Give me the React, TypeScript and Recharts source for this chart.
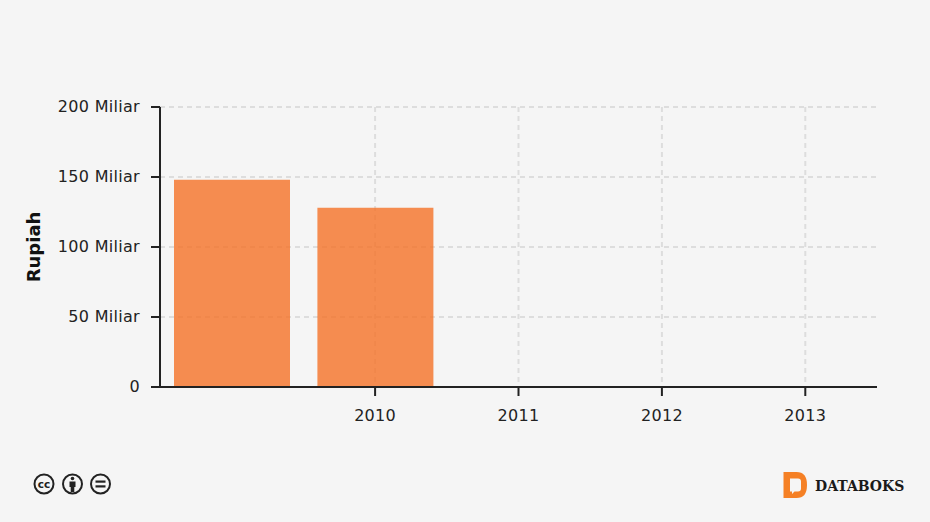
import { BarChart, Bar, XAxis, YAxis, CartesianGrid } from "recharts";

const years = ["", "2010", "2011", "2012", "2013"];
const values = [148, 128, 0, 0, 0];
const yTicks = [0, 50, 100, 150, 200];
const yLabels = ["0", "50 Miliar", "100 Miliar", "150 Miliar", "200 Miliar"];

const data = years.map((year, i) => ({ year: year || "2009", label: year, value: values[i] }));

const fontFamily = "'DejaVu Sans', sans-serif";
const axisColor = "#222";
const textColor = "#222";

function YearTick({ x, y, index }: any) {
  const label = years[index];
  if (!label) return null;
  return (
    <g>
      <line x1={x} x2={x} y1={y - 8} y2={y + 1} stroke={axisColor} strokeWidth={2} />
      <text x={x} y={y + 26} textAnchor="middle" fontSize={16} letterSpacing={0.3} fontFamily={fontFamily} fill={textColor}>
        {label}
      </text>
    </g>
  );
}

function CcBadges() {
  const ring = { fill: "#f5f5f5", stroke: "#222", strokeWidth: 2 };
  return (
    <svg width={90} height={30} style={{ position: "absolute", left: 30, top: 469 }}>
      <circle cx={14} cy={15} r={9.5} {...ring} />
      <text x={14} y={19} textAnchor="middle" fontSize={10.5} fontWeight={700} fontFamily={fontFamily} fill="#222">
        cc
      </text>
      <circle cx={42.5} cy={15} r={9.5} {...ring} />
      <circle cx={42.5} cy={9.5} r={1.8} fill="#222" />
      <path d="M39.500 12.500h6v5.500h-1.200v5h-3.600v-5H39.500z" fill="#222" />
      <circle cx={70.5} cy={15} r={9.5} {...ring} />
      <rect x={65.5} y={11.5} width={10} height={2.2} fill="#222" />
      <rect x={65.5} y={16.3} width={10} height={2.2} fill="#222" />
    </svg>
  );
}

function DataboksLogo() {
  return (
    <svg width={130} height={32} style={{ position: "absolute", left: 780, top: 470 }}>
      <path d="M3.500 2h13c7 0 10.500 4 10.500 13s-3.500 13-10.500 13h-13z" fill="#f58025" />
      <path d="M10 8.500h8c2 0 3 1 3 3v7c0 2-1 3-3 3h-3.500l-2.500 2.500v-2.500h-2z" fill="#f5f5f5" />
      <text x={35} y={21} fontSize={14} fontWeight={700} fontFamily="'DejaVu Serif', serif" fill="#1a1a1a">
        DATABOKS
      </text>
    </svg>
  );
}

export default function App() {
  return (
    <div style={{ position: "absolute", left: 0, top: 0, width: 930, height: 522, background: "#f5f5f5", overflow: "hidden" }}>
      <BarChart
        width={930}
        height={522}
        data={data}
        margin={{ top: 107, right: 53, bottom: 105, left: 0 }}
        barSize={116}
      >
        <CartesianGrid
          stroke="#ddd"
          strokeWidth={2}
          strokeDasharray="5 4"
          horizontalValues={yTicks}
          verticalValues={years.slice(1)}
        />
        <XAxis
          dataKey="year"
          height={30}
          axisLine={{ stroke: axisColor, strokeWidth: 2 }}
          tickLine={false}
          tick={<YearTick />}
          interval={0}
        />
        <YAxis
          width={160}
          domain={[0, 200]}
          ticks={yTicks}
          tickSize={9}
          tickMargin={11}
          axisLine={{ stroke: axisColor, strokeWidth: 2 }}
          tickLine={{ stroke: axisColor, strokeWidth: 2 }}
          tick={{ fontSize: 16, letterSpacing: 0.3, fontFamily, fill: textColor, dy: -1 }}
          tickFormatter={(v: number) => yLabels[yTicks.indexOf(v)]}
          label={{
            value: "Rupiah",
            angle: -90,
            position: "insideLeft",
            offset: 0,
            dx: 34,
            style: { fontSize: 18, fontWeight: 700, fontFamily, fill: "#111", textAnchor: "middle" },
          }}
        />
        <Bar dataKey="value" fill="#f57227" fillOpacity={0.8} isAnimationActive={false} />
      </BarChart>
      <CcBadges />
      <DataboksLogo />
    </div>
  );
}
